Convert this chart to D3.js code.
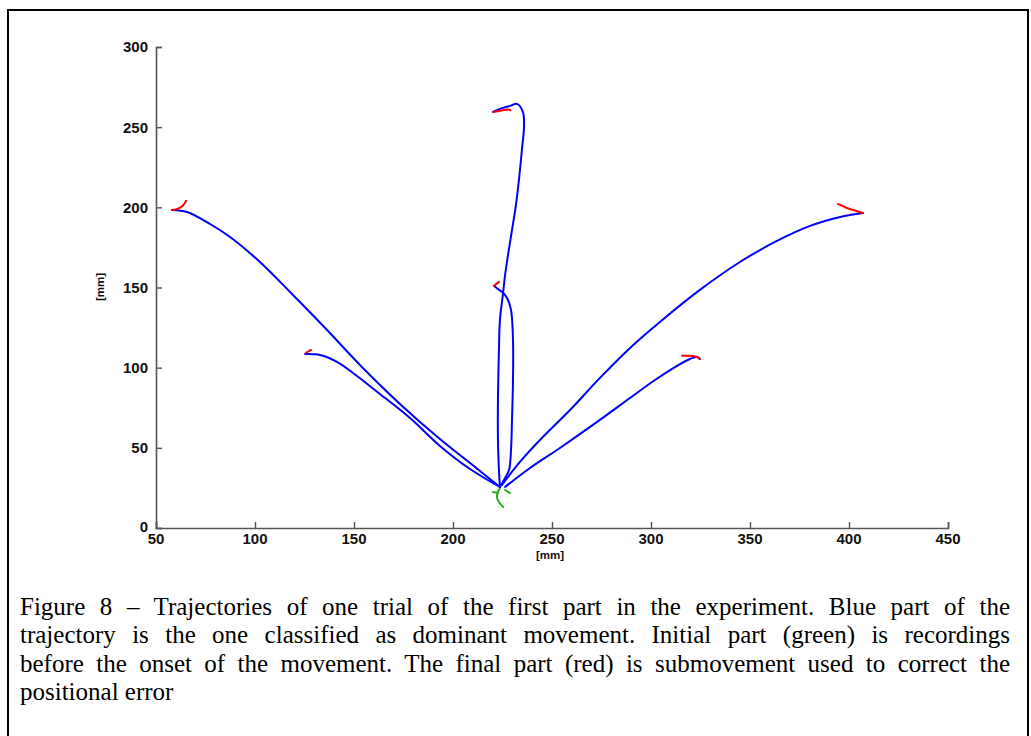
<!DOCTYPE html>
<html>
<head>
<meta charset="utf-8">
<script src="https://cdn.jsdelivr.net/npm/d3@7"></script>
<style>
  html, body { margin: 0; padding: 0; background: #fff; }
  svg { display: block; }
</style>
</head>
<body>
<svg id="fig" width="1031" height="736"></svg>
<script>
// Axis ticks
const xTicks = [50, 100, 150, 200, 250, 300, 350, 400, 450];
const yTicks = [0, 50, 100, 150, 200, 250, 300];

// Initial (green) part: recordings before movement onset, [x mm, y mm]
const greenMain = [[225.3, 13.1], [223.2, 16.2], [222.2, 19.3], [222.7, 22.5], [223.7, 25.0]];
const greenTickL = [[220.2, 22.5], [222.7, 21.8]];
const greenTickR = [[226.3, 23.7], [228.8, 21.8]];

// Dominant movement (blue) for each target
const blueFarLeft = [[223.7, 25.6], [208.6, 40.5], [193.4, 55.5], [173.2, 77.4], [153.0, 101.7],
  [136.4, 123.5], [117.7, 147.2], [102.5, 165.9], [87.4, 181.5], [77.3, 189.6], [65.7, 197.1], [58.1, 198.4]];
const blueInnerLeft = [[223.7, 25.6], [208.6, 36.8], [193.4, 51.2], [178.3, 68.6], [163.1, 83.6],
  [149.5, 96.7], [141.4, 103.6], [132.8, 107.9], [125.3, 108.5]];
const blueTop = [[223.7, 25.6], [223.2, 36.2], [222.7, 54.9], [222.7, 79.9], [223.2, 111.0],
  [223.7, 129.8], [225.3, 146.6], [226.3, 157.8], [227.8, 170.3], [229.8, 185.9], [231.8, 201.5],
  [233.3, 217.1], [234.8, 235.8], [235.9, 251.4], [235.3, 259.5], [232.3, 264.5], [228.8, 263.3],
  [223.7, 261.4], [220.2, 259.5]];
const blueMiddle = [[223.7, 25.6], [226.3, 31.2], [228.3, 36.2], [229.3, 48.7], [229.8, 67.4],
  [230.3, 92.3], [230.3, 117.3], [229.3, 136.0], [227.3, 143.5], [225.3, 146.6], [222.7, 149.1], [220.7, 151.0]];
const blueFarRight = [[224.7, 26.8], [233.8, 41.2], [243.9, 54.9], [259.1, 73.6], [274.2, 93.6],
  [289.4, 112.3], [304.5, 128.5], [324.7, 148.5], [344.9, 165.9], [362.6, 178.4], [380.3, 188.4],
  [395.5, 194.0], [407.1, 196.5]];
const blueInnerRight = [[226.3, 25.6], [238.9, 37.4], [254.0, 49.9], [274.2, 67.4], [289.4, 81.1],
  [302.0, 92.3], [312.1, 100.4], [319.7, 105.4], [323.2, 106.7], [324.7, 105.4]];

// Final corrective submovements (red)
const redFarLeft = [[58.1, 198.4], [61.1, 199.2], [63.5, 201.0], [65.2, 204.0]];
const redInnerLeft = [[125.8, 109.2], [127.0, 110.2], [128.3, 111.0]];
const redTop = [[220.5, 259.5], [224.0, 260.3], [228.0, 261.0], [229.0, 260.5]];
const redMiddle = [[220.7, 151.0], [222.0, 152.4], [223.2, 153.5]];
const redFarRight = [[407.1, 196.5], [399.0, 199.6], [394.4, 202.1]];
const redInnerRight = [[324.7, 105.4], [323.7, 106.4], [321.2, 107.3], [315.7, 107.4]];

const captionLines = [
  "Figure 8 \u2013 Trajectories of one trial of the first part in the experiment. Blue part of the",
  "trajectory is the one classified as dominant movement. Initial part (green) is recordings",
  "before the onset of the movement. The final part (red) is submovement used to correct the",
  "positional error"
];

const svg = d3.select("#fig");

// Outer frame
svg.append("rect")
  .attr("x", 8).attr("y", 10).attr("width", 1020).attr("height", 740)
  .attr("fill", "none").attr("stroke", "#000").attr("stroke-width", 2);

const x = d3.scaleLinear().domain([50, 450]).range([156, 948]);
const y = d3.scaleLinear().domain([0, 300]).range([528, 47]);

const axisColor = "#555";
const tickFont = "'Liberation Sans', Arial, sans-serif";

// Bottom axis, ticks pointing inward
const gx = svg.append("g").attr("transform", "translate(0,528)")
  .call(d3.axisTop(x).tickValues(xTicks).tickSize(6).tickFormat(""));
gx.select(".domain").attr("stroke", axisColor).attr("stroke-width", 1.6);
gx.selectAll(".tick line").attr("stroke", axisColor).attr("stroke-width", 1.4);
svg.append("g").selectAll("text").data(xTicks).join("text")
  .attr("x", d => x(d)).attr("y", 544)
  .attr("text-anchor", "middle")
  .attr("font-family", tickFont).attr("font-weight", "bold").attr("font-size", 15)
  .attr("fill", "#111")
  .text(d => d);

// Left axis, ticks pointing inward
const gy = svg.append("g").attr("transform", "translate(156,0)")
  .call(d3.axisRight(y).tickValues(yTicks).tickSize(6).tickFormat(""));
gy.select(".domain").attr("stroke", axisColor).attr("stroke-width", 1.6);
gy.selectAll(".tick line").attr("stroke", axisColor).attr("stroke-width", 1.4);
svg.append("g").selectAll("text").data(yTicks).join("text")
  .attr("x", 148).attr("y", d => y(d) - (d === 0 ? 1 : 0))
  .attr("dy", "0.36em")
  .attr("text-anchor", "end")
  .attr("font-family", tickFont).attr("font-weight", "bold").attr("font-size", 15)
  .attr("fill", "#111")
  .text(d => d);

// Axis titles
svg.append("text")
  .attr("x", 550).attr("y", 559)
  .attr("text-anchor", "middle")
  .attr("font-family", tickFont).attr("font-weight", "bold").attr("font-size", 11.5)
  .attr("fill", "#111")
  .text("[mm]");
svg.append("text")
  .attr("transform", "translate(104,287) rotate(-90)")
  .attr("text-anchor", "middle")
  .attr("font-family", tickFont).attr("font-weight", "bold").attr("font-size", 11.5)
  .attr("fill", "#111")
  .text("[mm]");

// Trajectories
const line = d3.line().x(d => x(d[0])).y(d => y(d[1])).curve(d3.curveCatmullRom.alpha(0.5));
const plot = svg.append("g").attr("fill", "none")
  .attr("stroke-linecap", "round").attr("stroke-linejoin", "round");

const blues = [blueFarLeft, blueInnerLeft, blueTop, blueMiddle, blueFarRight, blueInnerRight];
const reds = [redFarLeft, redInnerLeft, redTop, redMiddle, redFarRight, redInnerRight];
const greens = [greenMain, greenTickL, greenTickR];

plot.selectAll("path.green").data(greens).join("path")
  .attr("class", "green").attr("d", line)
  .attr("stroke", "#2eaa22").attr("stroke-width", 2);
plot.selectAll("path.blue").data(blues).join("path")
  .attr("class", "blue").attr("d", line)
  .attr("stroke", "#0000ff").attr("stroke-width", 2);
plot.selectAll("path.red").data(reds).join("path")
  .attr("class", "red").attr("d", line)
  .attr("stroke", "#ff0000").attr("stroke-width", 2);

// Caption: serif text, justified between the margins
const capLeft = 20, capRight = 1010, capFont = 25;
const baselines = [615, 643, 672, 700];
captionLines.forEach((t, i) => {
  const txt = svg.append("text")
    .attr("x", capLeft).attr("y", baselines[i])
    .attr("font-family", "'Liberation Serif', 'Times New Roman', serif")
    .attr("font-size", capFont).attr("fill", "#000")
    .text(t);
  if (i < captionLines.length - 1) {
    const w = txt.node().getComputedTextLength();
    const spaces = (t.match(/ /g) || []).length;
    const extra = (capRight - capLeft - w) / spaces;
    txt.attr("word-spacing", extra);
  }
});
</script>
</body>
</html>
